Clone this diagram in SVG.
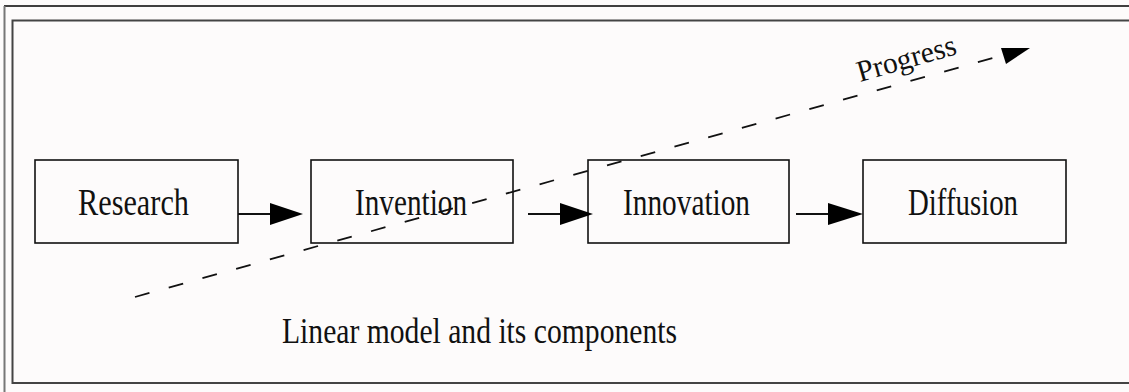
<svg xmlns="http://www.w3.org/2000/svg" width="1129" height="392" viewBox="0 0 1129 392">
<style>
.box{fill:none;stroke:#111;stroke-width:1.6}
.lbl{font-family:"Liberation Serif","DejaVu Serif",serif;font-size:38px;fill:#111}
.conn{stroke:#111;stroke-width:1.8;fill:none}
.head{fill:#000}
</style>
<rect x="0" y="0" width="1129" height="392" fill="#fdfbfb"/>
<line x1="4" y1="6" x2="1129" y2="6" stroke="#000" stroke-width="1.5"/>
<line x1="4.5" y1="6" x2="4.5" y2="392" stroke="#777" stroke-width="2"/>
<rect x="12.5" y="20.5" width="1130" height="362.5" fill="none" stroke="#444" stroke-width="2"/>
<g id="research">
<rect class="box" x="35" y="160" width="203" height="83"/>
<text class="lbl" x="78" y="215" textLength="111" lengthAdjust="spacingAndGlyphs">Research</text>
</g>
<g id="invention">
<rect class="box" x="311" y="160" width="202" height="83"/>
<text class="lbl" x="355" y="215" textLength="112" lengthAdjust="spacingAndGlyphs">Invention</text>
</g>
<g id="innovation">
<rect class="box" x="588" y="160" width="201" height="83"/>
<text class="lbl" x="623" y="215" textLength="127" lengthAdjust="spacingAndGlyphs">Innovation</text>
</g>
<g id="diffusion">
<rect class="box" x="863" y="160" width="203" height="83"/>
<text class="lbl" x="908" y="215" textLength="110" lengthAdjust="spacingAndGlyphs">Diffusion</text>
</g>
<g id="connectors">
<line class="conn" x1="238" y1="214" x2="272" y2="214"/>
<polygon class="head" points="270,203 303,214 270,225"/>
<line class="conn" x1="528" y1="214" x2="562" y2="214"/>
<polygon class="head" points="560,203 593,214 560,225"/>
<line class="conn" x1="796" y1="214" x2="830" y2="214"/>
<polygon class="head" points="828,203 863,214 828,225"/>
<line class="conn" x1="135" y1="297" x2="1000" y2="56" stroke-dasharray="15 20"/>
<polygon class="head" points="1030,48 1006,64 1001,48"/>
</g>
<g id="progress">
<text class="lbl" style="font-size:30px" x="0" y="0" textLength="102" lengthAdjust="spacingAndGlyphs" transform="translate(860,82) rotate(-16)">Progress</text>
</g>
<g id="caption">
<text class="lbl" style="font-size:35px" x="282" y="343" textLength="395" lengthAdjust="spacingAndGlyphs">Linear model and its components</text>
</g>
</svg>
